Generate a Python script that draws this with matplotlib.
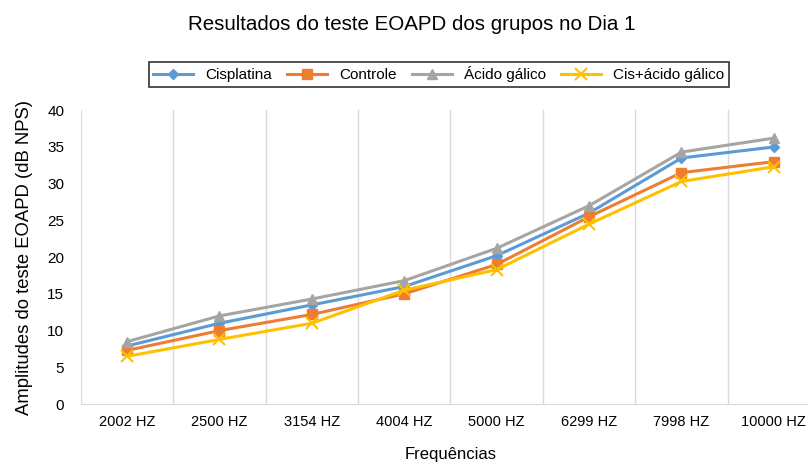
import matplotlib
matplotlib.use("Agg")
import matplotlib.pyplot as plt
import numpy as np

plt.rcParams['font.family'] = ['Liberation Sans', 'DejaVu Sans']

freqs = ["2002 HZ", "2500 HZ", "3154 HZ", "4004 HZ", "5000 HZ", "6299 HZ", "7998 HZ", "10000 HZ"]
cisplatina = [7.9, 11.0, 13.5, 16.0, 20.2, 26.0, 33.5, 35.0]
controle = [7.3, 10.0, 12.2, 15.0, 19.0, 25.5, 31.5, 33.0]
acido_galico = [8.5, 12.0, 14.3, 16.8, 21.2, 27.0, 34.3, 36.2]
cis_acido = [6.5, 8.8, 11.0, 15.5, 18.3, 24.5, 30.3, 32.3]

fig = plt.figure(figsize=(8.08, 4.65), dpi=100)
ax = fig.add_axes([0.1, 0.131, 0.915, 0.632])

x = np.arange(len(freqs))
ax.plot(x, cisplatina, color='#5B9BD5', marker='D', markersize=5, lw=2.2, label='Cisplatina')
ax.plot(x, controle, color='#ED7D31', marker='s', markersize=7, lw=2.2, label='Controle')
ax.plot(x, acido_galico, color='#A5A5A5', marker='^', markersize=7, lw=2.2, label='Ácido gálico')
ax.plot(x, cis_acido, color='#FFC000', marker='x', markersize=8, mew=1.5, lw=2.2, label='Cis+ácido gálico')

ax.set_xlim(-0.5, len(freqs) - 0.5)
ax.set_ylim(0, 40)
ax.set_yticks(range(0, 41, 5))
ax.set_xticks(x)
ax.set_xticklabels(freqs)
ax.set_xticks(np.arange(-0.5, len(freqs), 1), minor=True)
ax.grid(axis='x', which='minor', color='#D9D9D9', lw=1)
ax.tick_params(axis='x', which='both', length=0, labelsize=10.5, pad=8)
ax.tick_params(axis='y', which='both', length=0, labelsize=11, pad=12)
for s in ['top', 'right', 'left']:
    ax.spines[s].set_visible(False)
ax.spines['bottom'].set_color('#D9D9D9')

ax.set_ylabel('Amplitudes do teste EOAPD (dB NPS)', fontsize=13.3, labelpad=10)
ax.set_xlabel('Frequências', fontsize=12, labelpad=13)
fig.suptitle('Resultados do teste EOAPD dos grupos no Dia 1', fontsize=14.8, y=0.968, x=0.51)

leg = fig.legend(loc='center', bbox_to_anchor=(0.543, 0.84), ncol=4, fontsize=11,
                 frameon=True, fancybox=False, edgecolor='black', handlelength=2.6,
                 columnspacing=1.0, borderpad=0.3)
leg.get_frame().set_linewidth(1.2)

fig.savefig('out.png', dpi=100)
